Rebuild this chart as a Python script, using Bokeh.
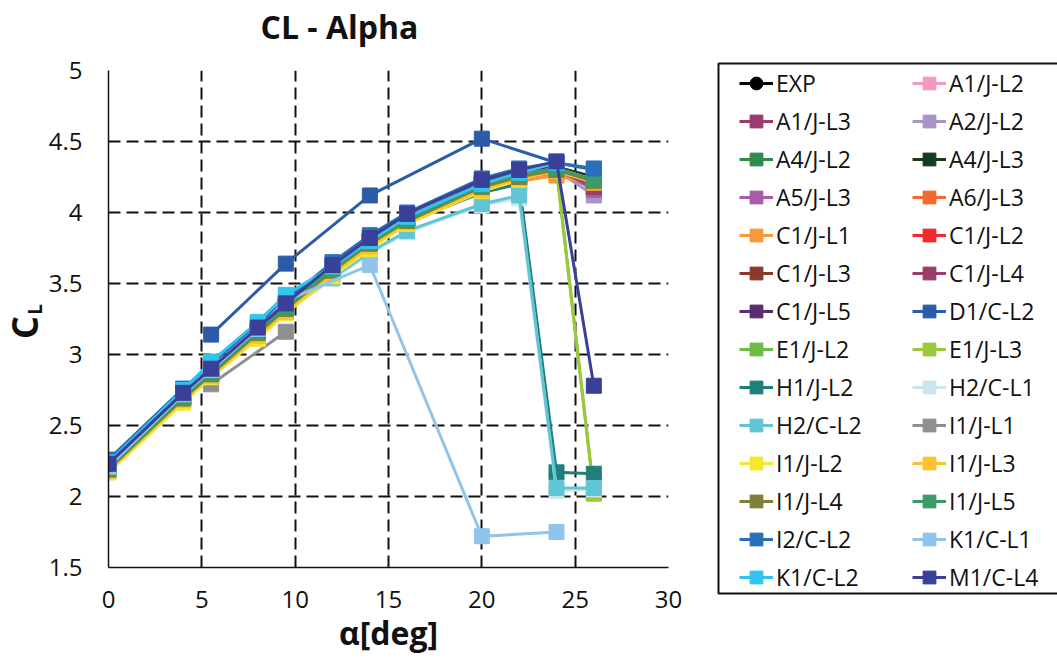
import math
from bokeh.plotting import figure
from bokeh.layouts import row, column
from bokeh.models import Legend, LegendItem, Range1d, FixedTicker, NumeralTickFormatter
from bokeh.core.properties import value
from bokeh.embed import file_html
from bokeh.resources import INLINE

# ---------------- data ----------------
ALPHA = [0, 4, 5.5, 8, 9.5, 12, 14, 16, 20, 22, 24, 26]
ALPHA_K1L1 = [0, 4, 5.5, 8, 9.5, 14, 20, 24]
ALPHA_K1L2 = [0, 4, 5.5, 8, 9.5, 12, 14, 16, 20, 22, 24]
ALPHA_D1 = [5.5, 9.5, 14, 20, 24, 26]
ALPHA_I1L1 = [5.5, 9.5]

EXP    = [2.20, 2.70, 2.87, 3.16, 3.33, 3.60, 3.79, 3.95, 4.19, 4.26, 4.30, 4.22]
A1_JL2 = [2.20, 2.70, 2.87, 3.16, 3.33, 3.60, 3.79, 3.95, 4.19, 4.26, 4.31, 4.20]
A1_JL3 = [2.20, 2.70, 2.87, 3.16, 3.33, 3.60, 3.79, 3.95, 4.18, 4.26, 4.31, 4.17]
A2_JL2 = [2.20, 2.70, 2.87, 3.16, 3.33, 3.60, 3.78, 3.94, 4.18, 4.25, 4.30, 4.12]
A4_JL2 = [2.21, 2.71, 2.88, 3.17, 3.34, 3.61, 3.80, 3.96, 4.20, 4.27, 4.31, 4.24]
A4_JL3 = [2.21, 2.71, 2.88, 3.17, 3.34, 3.61, 3.80, 3.96, 4.21, 4.28, 4.32, 4.25]
A5_JL3 = [2.20, 2.70, 2.87, 3.16, 3.33, 3.60, 3.79, 3.95, 4.19, 4.26, 4.30, 4.16]
A6_JL3 = [2.19, 2.69, 2.86, 3.15, 3.32, 3.59, 3.78, 3.94, 4.17, 4.24, 4.28, 4.21]
C1_JL1 = [2.18, 2.68, 2.85, 3.13, 3.30, 3.57, 3.76, 3.92, 4.15, 4.22, 4.26, 4.20]
C1_JL2 = [2.20, 2.70, 2.87, 3.15, 3.32, 3.59, 3.78, 3.94, 4.17, 4.25, 4.29, 4.21]
C1_JL3 = [2.20, 2.70, 2.87, 3.16, 3.33, 3.60, 3.79, 3.95, 4.19, 4.26, 4.30, 4.22]
C1_JL4 = [2.20, 2.70, 2.87, 3.16, 3.33, 3.60, 3.79, 3.95, 4.19, 4.26, 4.30, 4.18]
C1_JL5 = [2.21, 2.71, 2.88, 3.17, 3.34, 3.61, 3.80, 3.96, 4.21, 4.28, 4.32, 4.23]
D1_CL2 = [3.14, 3.64, 4.12, 4.52, 4.35, 4.30]
E1_JL2 = [2.20, 2.70, 2.87, 3.16, 3.33, 3.61, 3.80, 3.96, 4.20, 4.27, 4.31, 2.03]
E1_JL3 = [2.19, 2.69, 2.86, 3.15, 3.32, 3.60, 3.79, 3.95, 4.19, 4.26, 4.30, 2.02]
H1_JL2 = [2.19, 2.69, 2.86, 3.15, 3.32, 3.58, 3.77, 3.93, 4.14, 4.20, 2.17, 2.16]
H2_CL1 = [2.17, 2.67, 2.84, 3.12, 3.30, 3.53, 3.71, 3.86, 4.05, 4.10, 2.04, 2.05]
H2_CL2 = [2.18, 2.68, 2.85, 3.13, 3.31, 3.54, 3.72, 3.87, 4.06, 4.12, 2.06, 2.06]
I1_JL1 = [2.79, 3.16]
I1_JL2 = [2.17, 2.66, 2.84, 3.11, 3.29, 3.55, 3.74, 3.92, 4.15, 4.23, 4.31, 4.23]
I1_JL3 = [2.18, 2.68, 2.85, 3.13, 3.30, 3.57, 3.76, 3.93, 4.16, 4.24, 4.29, 4.21]
I1_JL4 = [2.19, 2.69, 2.86, 3.15, 3.32, 3.59, 3.78, 3.94, 4.18, 4.25, 4.30, 4.22]
I1_JL5 = [2.20, 2.70, 2.87, 3.16, 3.33, 3.60, 3.79, 3.95, 4.19, 4.27, 4.31, 4.23]
I2_CL2 = [2.26, 2.76, 2.93, 3.22, 3.38, 3.65, 3.84, 4.00, 4.24, 4.31, 4.35, 4.31]
K1_CL1 = [2.21, 2.72, 2.89, 3.18, 3.38, 3.63, 1.72, 1.75]
K1_CL2 = [2.24, 2.75, 2.95, 3.23, 3.42, 3.62, 3.80, 3.97, 4.20, 4.28, 4.35]
M1_CL4 = [2.23, 2.73, 2.90, 3.19, 3.36, 3.63, 3.82, 3.99, 4.23, 4.30, 4.36, 2.78]

SERIES = [
    ("EXP", "#000000", "circle", ALPHA, EXP),
    ("A1/J-L2", "#f49ac1", "square", ALPHA, A1_JL2),
    ("A1/J-L3", "#9b3b6e", "square", ALPHA, A1_JL3),
    ("A2/J-L2", "#a994c8", "square", ALPHA, A2_JL2),
    ("A4/J-L2", "#2e8b4a", "square", ALPHA, A4_JL2),
    ("A4/J-L3", "#1a3a1e", "square", ALPHA, A4_JL3),
    ("A5/J-L3", "#a85ca8", "square", ALPHA, A5_JL3),
    ("A6/J-L3", "#f26a30", "square", ALPHA, A6_JL3),
    ("C1/J-L1", "#f7983a", "square", ALPHA, C1_JL1),
    ("C1/J-L2", "#ee2a2e", "square", ALPHA, C1_JL2),
    ("C1/J-L3", "#8b3a2a", "square", ALPHA, C1_JL3),
    ("C1/J-L4", "#993d6e", "square", ALPHA, C1_JL4),
    ("C1/J-L5", "#5c2d6e", "square", ALPHA, C1_JL5),
    ("D1/C-L2", "#2b5ca8", "square", ALPHA_D1, D1_CL2),
    ("E1/J-L2", "#6dbb45", "square", ALPHA, E1_JL2),
    ("E1/J-L3", "#9cc83c", "square", ALPHA, E1_JL3),
    ("H1/J-L2", "#1f7f7a", "square", ALPHA, H1_JL2),
    ("H2/C-L1", "#c8e6ee", "square", ALPHA, H2_CL1),
    ("H2/C-L2", "#62c5d6", "square", ALPHA, H2_CL2),
    ("I1/J-L1", "#8e8f91", "square", ALPHA_I1L1, I1_JL1),
    ("I1/J-L2", "#f0e832", "square", ALPHA, I1_JL2),
    ("I1/J-L3", "#fcc22c", "square", ALPHA, I1_JL3),
    ("I1/J-L4", "#7f7f3a", "square", ALPHA, I1_JL4),
    ("I1/J-L5", "#3a9a68", "square", ALPHA, I1_JL5),
    ("I2/C-L2", "#2a70b8", "square", ALPHA, I2_CL2),
    ("K1/C-L1", "#90c4ea", "square", ALPHA_K1L1, K1_CL1),
    ("K1/C-L2", "#33c3ef", "square", ALPHA_K1L2, K1_CL2),
    ("M1/C-L4", "#3a3f98", "square", ALPHA, M1_CL4),
]

TITLE = "CL - Alpha"
X_LABEL = "α[deg]"
X_TICKS = [0, 5, 10, 15, 20, 25, 30]
Y_TICKS = [1.5, 2, 2.5, 3, 3.5, 4, 4.5, 5]

FONT = "Open Sans"
INK = "#111111"
W = 1057
H = 662
TOP_H = 50
LABEL_W = 45
LEG_W = 349
NAN = float("nan")

# ---------------- title strip ----------------
top = figure(width=W, height=TOP_H, output_backend="svg", toolbar_location=None,
             x_range=Range1d(0, W), y_range=Range1d(TOP_H, 0),
             min_border=0, outline_line_color=None, frame_align=False)
top.axis.visible = False
top.grid.visible = False
top.text(x=[339], y=[26], text=[TITLE], text_font=value(FONT), text_font_style="bold",
         text_font_size="32px", text_align="center", text_baseline="middle", text_color=INK)

# ---------------- y-axis title panel (C with subscript L) ----------------
lab = figure(width=LABEL_W, height=H - TOP_H, output_backend="svg", toolbar_location=None,
             x_range=Range1d(0, LABEL_W), y_range=Range1d(H, TOP_H),
             min_border=0, outline_line_color=None, frame_align=False)
lab.axis.visible = False
lab.grid.visible = False
lab.text(x=[24], y=[327], text=["C"], angle=math.pi / 2, text_font=value(FONT),
         text_font_style="bold", text_font_size="36px", text_align="center",
         text_baseline="middle", text_color=INK)
lab.text(x=[34], y=[309], text=["L"], angle=math.pi / 2, text_font=value(FONT),
         text_font_style="bold", text_font_size="19px", text_align="center",
         text_baseline="middle", text_color=INK)

# ---------------- main figure ----------------
p = figure(width=W - LABEL_W - LEG_W, height=H - TOP_H, output_backend="svg",
           toolbar_location=None, x_range=Range1d(0, 30), y_range=Range1d(1.5, 5),
           min_border_left=104 - LABEL_W, min_border_right=W - LEG_W - 668,
           min_border_top=70 - TOP_H, min_border_bottom=95, frame_align=False)
p.outline_line_color = None

for ax in (p.xaxis[0], p.yaxis[0]):
    ax.major_tick_line_color = None
    ax.minor_tick_line_color = None
    ax.major_tick_out = 0
    ax.major_tick_in = 0
    ax.axis_line_color = INK
    ax.axis_line_width = 1.5
    ax.major_label_text_font = FONT
    ax.major_label_text_font_size = "24px"
    ax.major_label_text_color = INK

p.xaxis.ticker = FixedTicker(ticks=X_TICKS)
p.yaxis.ticker = FixedTicker(ticks=Y_TICKS)
p.yaxis.formatter = NumeralTickFormatter(format="0.[0]")
p.xaxis.major_label_standoff = 23
p.yaxis.major_label_standoff = 26

p.xaxis.axis_label = X_LABEL
p.xaxis.axis_label_text_font = FONT
p.xaxis.axis_label_text_font_style = "bold"
p.xaxis.axis_label_text_font_size = "32px"
p.xaxis.axis_label_text_color = INK
p.xaxis.axis_label_standoff = 0

for g in (p.xgrid[0], p.ygrid[0]):
    g.grid_line_color = INK
    g.grid_line_width = 2
    g.grid_line_dash = "12 6"

# ---------------- legend panel ----------------
leg = figure(width=LEG_W, height=H - TOP_H, output_backend="svg", toolbar_location=None,
             x_range=Range1d(W - LEG_W, W), y_range=Range1d(H, TOP_H),
             min_border=0, outline_line_color=None, frame_align=False)
leg.axis.visible = False
leg.grid.visible = False
# legend frame box
leg.quad(left=[718], right=[W + 20], top=[63], bottom=[593],
         fill_color="white", line_color=INK, line_width=2)

items = []
for name, color, marker, xs, ys in SERIES:
    p.line(xs, ys, line_color=color, line_width=3)
    size = 12 if marker == "circle" else 15
    p.scatter(xs, ys, marker=marker, size=size, fill_color=color, line_color=color)
    # legend proxies (nothing drawn in the panel)
    k1 = leg.line([NAN], [NAN], line_color=color, line_width=3)
    k2 = leg.scatter([NAN], [NAN], marker=marker, size=size, fill_color=color, line_color=color)
    items.append(LegendItem(label=name, renderers=[k1, k2]))

# two columns, read row by row as in the reference
items = items[0::2] + items[1::2]

legend = Legend(items=items, ncols=2, location=(31, 69),
                border_line_color=None, background_fill_alpha=0,
                label_text_font=FONT, label_text_font_size="23px", label_text_color=INK,
                glyph_width=34, glyph_height=32, label_standoff=3, label_width=130,
                spacing=6, padding=5, margin=0)
leg.add_layout(legend, "center")

layout = column(top, row(lab, p, leg, spacing=0), spacing=0)
open("out.html", "w").write(file_html(layout, INLINE))
